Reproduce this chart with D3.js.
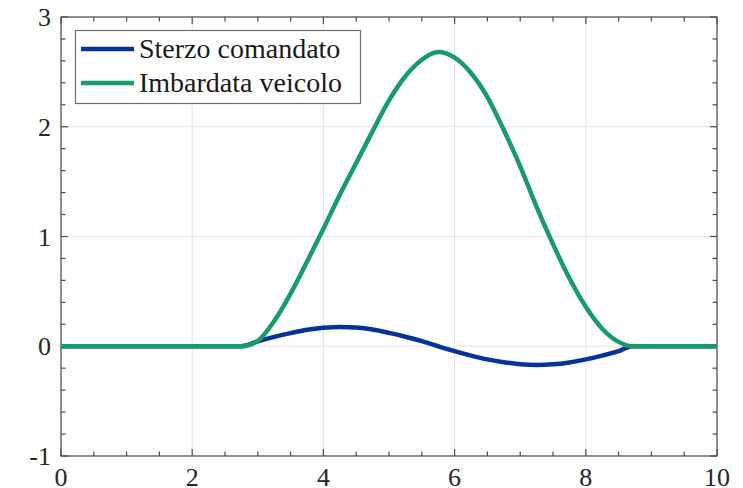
<!DOCTYPE html>
<html>
<head>
<meta charset="utf-8">
<style>
    body { margin: 0; }
    svg text { font-family: "Liberation Serif", "Times New Roman", serif; }
</style>
</head>
<body>
<svg width="743" height="488"></svg>
<script src="https://d3js.org/d3.v7.min.js"></script>
<script>
//------------------------ DATA ------------------------//
// time axis (s) shared by both series
let tempo = [0, 2.75, 3.0, 3.25, 3.5, 3.75, 4.0, 4.25, 4.5, 4.75, 5.0, 5.25, 5.5, 5.75,
             6.0, 6.25, 6.5, 6.75, 7.0, 7.25, 7.5, 7.75, 8.0, 8.25, 8.5, 8.7, 10];

// Sterzo comandato (blue)
let sterzo = [0, 0, 0.045, 0.085, 0.12, 0.15, 0.168, 0.176, 0.17, 0.152, 0.122, 0.087, 0.047, 0.0,
              -0.045, -0.085, -0.12, -0.146, -0.163, -0.17, -0.165, -0.148, -0.12, -0.085, -0.045, 0, 0];

// Imbardata veicolo (green)
let imbardata = [0, 0, 0.05, 0.23, 0.48, 0.77, 1.07, 1.38, 1.67, 1.96, 2.24, 2.46, 2.61, 2.68,
                 2.63, 2.49, 2.27, 1.97, 1.64, 1.27, 0.93, 0.62, 0.36, 0.16, 0.04, 0, 0];

let seriesNames = ["Sterzo comandato", "Imbardata veicolo"];
let seriesColors = ["#06339a", "#179b6b"];

let xTicks = [0, 2, 4, 6, 8, 10];
let yTicks = [-1, 0, 1, 2, 3];

//------------------------ SETUP ------------------------//
let svg = d3.select("svg");
let margins = {top: 17, right: 26, bottom: 32, left: 61};
let width = 743, height = 488;

let x = d3.scaleLinear().domain([0, 10]).range([margins.left, width - margins.right]);
let y = d3.scaleLinear().domain([-1, 3]).range([height - margins.bottom, margins.top]);

let axisColor = "#4d4d4d";
let gridColor = "#e3e3e3";

//------------------------ GRID ------------------------//
let grid = svg.append("g");
grid.selectAll(".gx")
    .data(xTicks)
    .join("line")
    .attr("x1", d => x(d)).attr("x2", d => x(d))
    .attr("y1", y(-1)).attr("y2", y(3))
    .attr("stroke", gridColor).attr("stroke-width", 1);
grid.selectAll(".gy")
    .data(yTicks)
    .join("line")
    .attr("y1", d => y(d)).attr("y2", d => y(d))
    .attr("x1", x(0)).attr("x2", x(10))
    .attr("stroke", gridColor).attr("stroke-width", 1);

//------------------------ FRAME & TICKS ------------------------//
let xMinor = d3.range(0, 10.01, 0.5);
let yMinor = d3.range(-1, 3.01, 0.2);

svg.append("rect")
    .attr("x", x(0)).attr("y", y(3))
    .attr("width", x(10) - x(0)).attr("height", y(-1) - y(3))
    .attr("fill", "none").attr("stroke", axisColor).attr("stroke-width", 1.2);

let ticks = svg.append("g").attr("stroke", axisColor).attr("stroke-width", 1.2);
xMinor.forEach(function(v) {
    let len = xTicks.includes(v) ? 7 : 4.5;
    ticks.append("line").attr("x1", x(v)).attr("x2", x(v)).attr("y1", y(-1)).attr("y2", y(-1) - len);
    ticks.append("line").attr("x1", x(v)).attr("x2", x(v)).attr("y1", y(3)).attr("y2", y(3) + len);
});
yMinor.forEach(function(v) {
    let len = yTicks.includes(Math.round(v * 10) / 10) ? 7 : 4.5;
    ticks.append("line").attr("y1", y(v)).attr("y2", y(v)).attr("x1", x(0)).attr("x2", x(0) + len);
    ticks.append("line").attr("y1", y(v)).attr("y2", y(v)).attr("x1", x(10)).attr("x2", x(10) - len);
});

// tick labels
svg.append("g").selectAll("text")
    .data(xTicks)
    .join("text")
    .attr("x", d => x(d)).attr("y", y(-1) + 30)
    .attr("text-anchor", "middle")
    .attr("font-size", 26)
    .attr("fill", "#262626")
    .text(d => d);

svg.append("g").selectAll("text")
    .data(yTicks)
    .join("text")
    .attr("x", x(0) - 10).attr("y", d => y(d) + 9)
    .attr("text-anchor", "end")
    .attr("font-size", 26)
    .attr("fill", "#262626")
    .text(d => d);

//------------------------ LINES ------------------------//
let line = d3.line()
    .x(d => x(d.t))
    .y(d => y(d.v))
    .curve(d3.curveMonotoneX);

let dataS = tempo.map((t, i) => ({t: t, v: sterzo[i]}));
let dataI = tempo.map((t, i) => ({t: t, v: imbardata[i]}));

svg.append("path")
    .attr("d", line(dataS))
    .attr("fill", "none")
    .attr("stroke", seriesColors[0])
    .attr("stroke-width", 4.5)
    .attr("stroke-linejoin", "round");

svg.append("path")
    .attr("d", line(dataI))
    .attr("fill", "none")
    .attr("stroke", seriesColors[1])
    .attr("stroke-width", 4.5)
    .attr("stroke-linejoin", "round");

//------------------------ LEGEND ------------------------//
svg.append("rect")
    .attr("x", 75.5).attr("y", 30.5)
    .attr("width", 285).attr("height", 73)
    .attr("fill", "white")
    .attr("stroke", "#6e6e6e")
    .attr("stroke-width", 1.2);

seriesNames.forEach(function(name, i) {
    let cy = 49 + i * 34;
    svg.append("line")
        .attr("x1", 81).attr("x2", 134)
        .attr("y1", cy).attr("y2", cy)
        .attr("stroke", seriesColors[i])
        .attr("stroke-width", 4.5);
    svg.append("text")
        .attr("x", 139).attr("y", cy + 9)
        .attr("font-size", 28)
        .attr("fill", "#1a1a1a")
        .text(name);
});
</script>
</body>
</html>
